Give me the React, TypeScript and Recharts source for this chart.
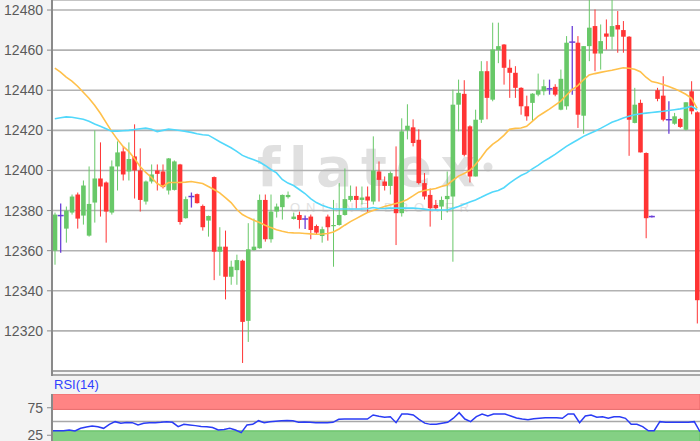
import React from 'react';
import {
  ComposedChart,
  LineChart,
  Line,
  Bar,
  XAxis,
  YAxis,
  CartesianGrid,
  ReferenceArea,
  ReferenceLine,
} from 'recharts';

const opens = [
  12360, 12377.5, 12371, 12379, 12388, 12377.5, 12367.5, 12384, 12396, 12394,
  12379, 12402, 12409.5, 12399.5, 12407, 12400, 12384.5, 12394.5, 12400, 12399.5,
  12390, 12390.3, 12403, 12376.2, 12387, 12388.2, 12382.3, 12375, 12396.7, 12359.5,
  12362, 12347, 12350.3, 12355, 12325, 12360.3, 12361.2, 12385.3, 12365.7, 12379.5,
  12381.7, 12386.7, 12375.8, 12377.8, 12375.8, 12377, 12372.3, 12367.3, 12377, 12372.3,
  12372.8, 12377.8, 12385.3, 12387.3, 12385.3, 12387, 12384.5, 12399.5, 12394.5, 12392.3,
  12397, 12378.7, 12420, 12421.5, 12415.3, 12393.7, 12387.8, 12382.8, 12382, 12385.7,
  12387, 12432.8, 12438.2, 12422, 12397, 12425.3, 12449.5, 12435.3, 12460, 12462.8,
  12451.2, 12448.7, 12441.2, 12432, 12433.7, 12437.8, 12439.5, 12440.7, 12441.7, 12430.3,
  12432, 12464, 12463.7, 12427.3, 12462, 12472, 12458.3, 12468.3, 12466.7, 12472.5,
  12470, 12466.7, 12423.7, 12433.7, 12408.7, 12377, 12440, 12437.3, 12425.3, 12423.3,
  12425.7, 12420.3, 12439.5, 12429,
];

const highs = [
  12379, 12383.5, 12382, 12388, 12389, 12395, 12402, 12420, 12414, 12394.5,
  12405, 12414.5, 12412, 12414, 12423, 12411, 12395, 12403, 12403, 12403,
  12406.2, 12405, 12403.3, 12387, 12389, 12388.5, 12383, 12377.5, 12397, 12371.7,
  12370, 12355, 12358, 12355.5, 12373.7, 12376, 12388, 12388, 12388, 12383.5,
  12388, 12389.5, 12379, 12379.5, 12377.5, 12378, 12373, 12372, 12378, 12385.3,
  12393.7, 12401, 12392.5, 12392, 12392, 12392, 12417, 12404.5, 12397, 12399.5,
  12412, 12426, 12433, 12425.5, 12420.5, 12398.7, 12391, 12385.3, 12387, 12399.5,
  12440.3, 12445.3, 12445, 12422.5, 12430.3, 12454.5, 12454.5, 12473.7, 12473.7, 12463,
  12455.3, 12452, 12441.5, 12437.3, 12438.5, 12448.3, 12445.3, 12445.3, 12443, 12450.3,
  12467, 12472, 12467, 12462, 12490, 12480.3, 12472.8, 12475.3, 12490, 12479.5,
  12474.5, 12467, 12441.2, 12435.3, 12409, 12377.5, 12441.2, 12447, 12434.5, 12428.7,
  12426.2, 12434, 12444.5, 12429.5,
];

const lows = [
  12353, 12359, 12364, 12378, 12371, 12373, 12367, 12374, 12377, 12364,
  12378, 12390, 12395, 12395, 12386, 12379.5, 12383, 12393.5, 12390, 12391,
  12388, 12390, 12373, 12376, 12381.5, 12383.5, 12370, 12367, 12345.3, 12347.5,
  12335.7, 12343, 12343, 12304, 12314.5, 12360, 12361, 12364.5, 12364, 12376.5,
  12375.5, 12386, 12375.5, 12371, 12370.8, 12365.7, 12368, 12364, 12365, 12352,
  12372.5, 12377.5, 12384.5, 12381, 12383, 12379, 12383, 12384.5, 12390, 12388,
  12362.8, 12377, 12415.5, 12412, 12393, 12385.5, 12372, 12380.3, 12375.3, 12379,
  12354.5, 12419.5, 12407, 12394, 12397, 12423.7, 12425.5, 12434.5, 12453.5, 12442.8,
  12436.2, 12436.2, 12427.8, 12424.8, 12424.8, 12437, 12437.5, 12437.8, 12437, 12430,
  12430.3, 12437.8, 12421.2, 12418.3, 12454.5, 12449.5, 12450.3, 12460.3, 12460.3, 12458.7,
  12458.7, 12407.3, 12423.5, 12409, 12366.2, 12376.5, 12434.5, 12424.5, 12418.3, 12422.8,
  12421.2, 12420, 12428, 12323.7,
];

const closes = [
  12378, 12377.5, 12380, 12387, 12376, 12392.5, 12383.3, 12396, 12392, 12379.5,
  12402, 12409, 12398, 12405.7, 12400, 12385.3, 12394.5, 12398, 12398.3, 12391.7,
  12406, 12404.5, 12374.3, 12385.7, 12387, 12383.7, 12371.7, 12377.3, 12359.5, 12362,
  12347, 12352, 12355.3, 12324.5, 12360.7, 12362, 12385.3, 12365.7, 12379.5, 12382,
  12387.8, 12387.8, 12377, 12375.3, 12375.8, 12370.3, 12369, 12370.7, 12371.7, 12372.8,
  12377.8, 12385.7, 12387.3, 12385.3, 12386.5, 12385, 12400, 12395.3, 12392.3, 12398.7,
  12378.7, 12419.5, 12422.3, 12413.7, 12393.7, 12387, 12381.2, 12381.2, 12385.3, 12387.3,
  12432.8, 12438.7, 12407.8, 12397, 12425.3, 12449.5, 12436.2, 12460.3, 12462, 12451.2,
  12448.7, 12441.2, 12432, 12427, 12438.3, 12440, 12442, 12440.7, 12437.8, 12445.7,
  12463.7, 12464, 12427.8, 12462, 12471.2, 12458.3, 12464.5, 12466.7, 12472, 12470.3,
  12466.7, 12425.3, 12432.8, 12409, 12376.2, 12377, 12435.7, 12425.3, 12425.3, 12427,
  12421.7, 12434, 12429.5, 12335.3,
];

// short moving average (orange)
const maFast = [
  12451, 12449, 12446.5, 12444.5, 12442, 12439, 12436, 12432.5, 12428.5, 12424,
  12419.5, 12415.5, 12412, 12409.5, 12406, 12402, 12399, 12396.5, 12393.5, 12392,
  12394, 12394, 12394, 12394.2, 12394.5, 12394, 12393.5, 12392, 12390.5, 12388.8,
  12386.5, 12384, 12380.5, 12378, 12376.5, 12375.2, 12374, 12372.7, 12371.5, 12370.4,
  12369.7, 12369.1, 12368.9, 12368.8, 12368.6, 12368.4, 12368.2, 12368.3, 12368.6, 12369.3,
  12370.8, 12372.7, 12374.5, 12376, 12377.5, 12379, 12380, 12381, 12382, 12382.8,
  12383.5, 12384.3, 12385.5, 12387.3, 12389.2, 12390, 12390.5, 12391, 12392, 12392.8,
  12395, 12397.2, 12398.5, 12400, 12403, 12406.5, 12410.3, 12413, 12415, 12417.5,
  12420.5, 12421, 12421.2, 12422, 12424.5, 12427, 12428.8, 12430.6, 12432.6, 12434.6,
  12437.5, 12440.3, 12442.3, 12445.2, 12447.6, 12448.3, 12448.9, 12449.5, 12450, 12450.6,
  12451.2, 12451, 12450.5, 12449.2, 12446.5, 12444.3, 12443.7, 12442.9, 12441.9, 12440.8,
  12439.5, 12438, 12436, 12431,
];

// long moving average (cyan)
const maSlow = [
  12425.8, 12426.3, 12426.7, 12426.5, 12426, 12425.5, 12424.5, 12423.2, 12422, 12420.8,
  12419.6, 12419.6, 12419.8, 12420, 12420.4, 12420.8, 12421.1, 12420.6, 12419.4, 12420,
  12420.6, 12420.3, 12419.9, 12419.5, 12419, 12418.3, 12417.8, 12417.6, 12416, 12414.3,
  12412.8, 12411.3, 12409.5, 12407.5, 12406.3, 12405.3, 12404.2, 12402.5, 12400.5, 12398.8,
  12395.5, 12393.7, 12392.5, 12390.5, 12388.5, 12386, 12384, 12382.7, 12381.7, 12380.8,
  12380.8, 12380.8, 12380.8, 12380.8, 12380.8, 12380.9, 12381.5, 12381, 12381, 12381.2,
  12381.2, 12381.2, 12381.2, 12381.2, 12381, 12380.7, 12380.3, 12380.3, 12380.3, 12380.3,
  12381.1, 12382, 12383.2, 12384.3, 12385.3, 12386.6, 12388, 12389.3, 12390, 12391.4,
  12393.7, 12395.7, 12397.5, 12398.8, 12400.8, 12402.5, 12404.5, 12406.2, 12408, 12410,
  12412, 12413.7, 12415.3, 12417, 12418.3, 12419.6, 12421, 12422.5, 12424, 12425,
  12426.2, 12427, 12427.8, 12428.3, 12428.6, 12428.9, 12429.2, 12429.5, 12429.9, 12430.3,
  12430.7, 12431.2, 12432, 12430.3,
];

const rsi = [
  33.3, 33.3, 33.3, 34.5, 32.7, 37.6, 40, 41.8, 40.6, 37.6,
  44.8, 49.7, 46.7, 48, 47.9, 43.6, 46.7, 47.9, 47.9, 48.5,
  49.7, 48.5, 40.6, 44.8, 43.6, 42.5, 41, 40.6, 39, 34.5,
  35.5, 37.6, 34.5, 29.7, 43.6, 44.8, 51.5, 47.9, 49.7, 50.5,
  51.5, 51.8, 51.2, 48.5, 49.2, 48.5, 47.9, 47.9, 47.9, 48.5,
  54, 54.5, 54.5, 54.5, 54.5, 54.5, 61.8, 59.5, 57.6, 58.5,
  47.9, 63.6, 63.6, 61.8, 54, 47, 44.8, 45, 46.7, 48.5,
  56, 66, 54.5, 49.7, 58.8, 63.6, 60, 63.6, 63.6, 63.6,
  60, 56.5, 54.5, 53, 55, 56, 57, 57, 57, 55.8,
  63.6, 63.6, 47.9, 60, 61.8, 57.6, 58.8, 55.8, 58.8, 58.8,
  55.8, 44.8, 44.8, 40.6, 33, 33.3, 49.7, 48.5, 48.5, 48.5,
  48.5, 48.5, 49.7, 31.5,
];

const priceTicks = [12320, 12340, 12360, 12380, 12400, 12420, 12440, 12460, 12480];
const rsiTicks = [25, 75];
const rsiUpper = 72;
const rsiLower = 33;
const rsiMid = 50;

const data = opens.map((o, i) => ({
  i,
  open: o,
  high: highs[i],
  low: lows[i],
  close: closes[i],
  maFast: maFast[i],
  maSlow: maSlow[i],
  rsi: rsi[i],
}));

const GREEN = '#68c868';
const RED = '#ff3434';
const PURPLE = '#6a3fd8';
const FONT = '"Liberation Sans", Arial, sans-serif';

function Candle(props: any) {
  const { x, y, width, height, payload } = props;
  if (!payload || x == null || y == null) return null;
  const { open, close, high, low } = payload;
  const cx = x + width / 2;
  const span = high - low;
  const k = span > 0 ? height / span : 0;
  const py = (v: number) => y + (high - v) * k;
  if (open === close) {
    const yy = py(open);
    return (
      <g>
        <line x1={cx} x2={cx} y1={y} y2={y + height} stroke={PURPLE} strokeWidth={1.3} />
        <line x1={cx - 3} x2={cx + 3} y1={yy} y2={yy} stroke={PURPLE} strokeWidth={1.5} />
      </g>
    );
  }
  const color = close > open ? GREEN : RED;
  const top = py(Math.max(open, close));
  const bot = py(Math.min(open, close));
  return (
    <g>
      <line x1={cx} x2={cx} y1={y} y2={y + height} stroke={color} strokeWidth={1} />
      <rect x={cx - 2.3} width={4.6} y={top} height={Math.max(1.2, bot - top)} fill={color} />
    </g>
  );
}

export default function App() {
  return (
    <div
      style={{
        position: 'absolute',
        left: 0,
        top: 0,
        width: 700,
        height: 441,
        overflow: 'hidden',
        background: '#f3f3f3',
        fontFamily: FONT,
      }}
    >
      {/* plot background + watermark, beneath the chart */}
      <div
        style={{
          position: 'absolute',
          left: 52,
          top: 0,
          width: 648,
          height: 371,
          background: '#ffffff',
        }}
      />
      <svg
        width={700}
        height={371}
        style={{ position: 'absolute', left: 0, top: 0 }}
      >
        <text
          x={257}
          y={186}
          fontSize={54}
          fontWeight="bold"
          fill="#e0e0e0"
          letterSpacing={8.5}
          fontFamily='"DejaVu Sans", sans-serif'
        >
          flatex
        </text>
        <circle cx={488} cy={167} r={4.5} fill="#e0e0e0" />
        <text
          x={290}
          y={212}
          fontSize={13}
          letterSpacing={6}
          fill="#e2e2e2"
          fontFamily={FONT}
        >
          ONLINE BROKER
        </text>
      </svg>
      <div style={{ position: 'absolute', left: 0, top: 0 }}>
        <ComposedChart
          width={700}
          height={371}
          data={data}
          margin={{ top: 0, right: 0, bottom: 0, left: 0 }}
          barCategoryGap={0}
        >
          <CartesianGrid
            vertical={false}
            horizontal={true}
            fill="none"
            stroke="#b2b2b2"
            strokeWidth={1.6}
          />
          <XAxis dataKey="i" hide />
          <YAxis
            domain={[12300, 12485]}
            allowDataOverflow
            ticks={priceTicks}
            width={52}
            tickSize={5}
            tickMargin={4}
            axisLine={{ stroke: '#8a8a8a', strokeWidth: 2 }}
            tickLine={{ stroke: '#8a8a8a' }}
            tick={{ fill: '#5a5a5a', fontSize: 14, fontFamily: FONT }}
          />
          <Bar
            dataKey={(d: any) => [d.low, d.high]}
            shape={Candle}
            isAnimationActive={false}
          />
          <Line
            dataKey="maFast"
            stroke="#ffc04a"
            strokeWidth={1.6}
            dot={false}
            isAnimationActive={false}
          />
          <Line
            dataKey="maSlow"
            stroke="#52d8fb"
            strokeWidth={1.6}
            dot={false}
            isAnimationActive={false}
          />
        </ComposedChart>
      </div>
      <div
        style={{
          position: 'absolute',
          left: 52,
          top: 370,
          width: 648,
          height: 2,
          borderTop: '2px solid #a8a8a8',
          borderBottom: '2px solid #a8a8a8',
          background: '#f7f7f7',
        }}
      />
      <div
        style={{
          position: 'absolute',
          left: 51,
          top: 370,
          width: 2,
          height: 6,
          background: '#8a8a8a',
        }}
      />
      <div
        style={{
          position: 'absolute',
          left: 54,
          top: 378,
          fontSize: 13,
          color: '#3040ff',
          fontFamily: FONT,
          lineHeight: '14px',
        }}
      >
        RSI(14)
      </div>
      <div style={{ position: 'absolute', left: 0, top: 394 }}>
        <LineChart
          width={700}
          height={55}
          data={data}
          margin={{ top: 0, right: 0, bottom: 0, left: 0 }}
        >
          <CartesianGrid vertical={false} horizontal={false} fill="#ffffff" stroke="none" />
          <XAxis dataKey="i" hide />
          <YAxis
            domain={[0, 100]}
            ticks={rsiTicks}
            width={52}
            tickSize={5}
            tickMargin={4}
            axisLine={{ stroke: '#8a8a8a', strokeWidth: 2 }}
            tickLine={{ stroke: '#8a8a8a' }}
            tick={{ fill: '#5a5a5a', fontSize: 14, fontFamily: FONT }}
          />
          <ReferenceArea y1={rsiUpper} y2={100} fill="#ff8484" fillOpacity={1} stroke="#e86868" strokeWidth={1} />
          <ReferenceArea y1={0} y2={rsiLower} fill="#84d084" fillOpacity={1} stroke="#5cbc5c" strokeWidth={1} />
          <ReferenceLine y={rsiMid} stroke="#a8a8a8" strokeWidth={1.5} />
          <Line
            dataKey="rsi"
            stroke="#2a3cf5"
            strokeWidth={1.5}
            dot={false}
            isAnimationActive={false}
          />
        </LineChart>
      </div>
    </div>
  );
}
